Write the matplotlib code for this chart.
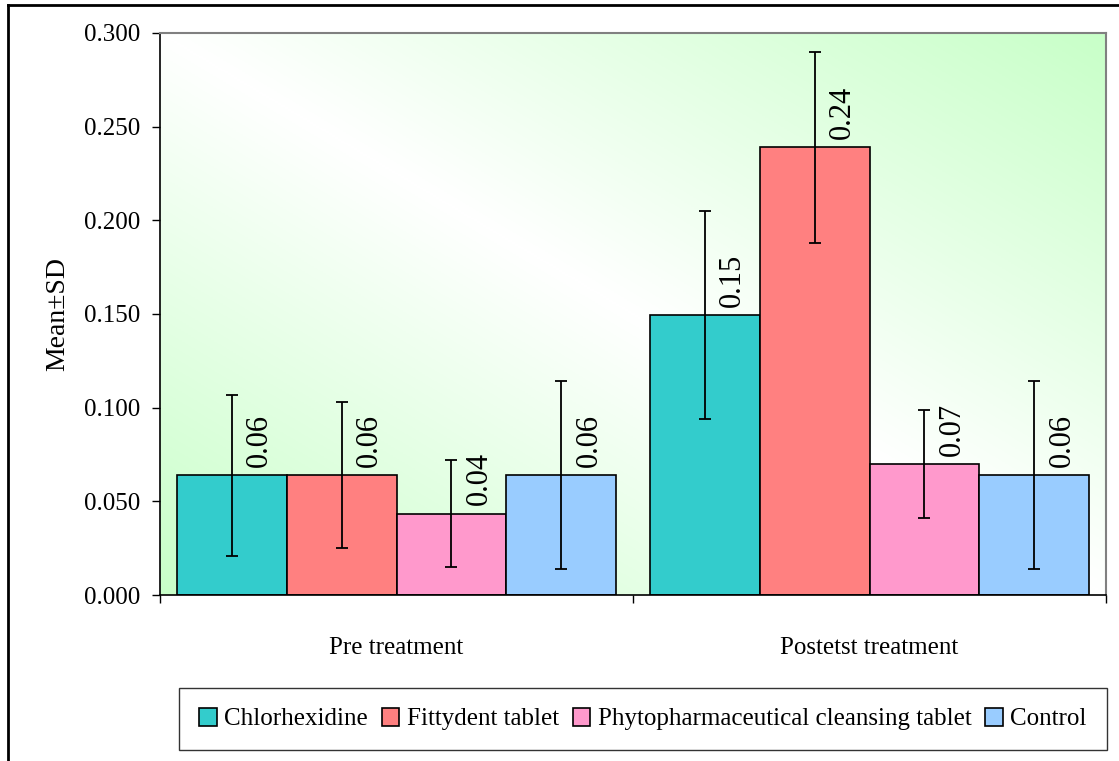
import matplotlib.pyplot as plt
import numpy as np
from matplotlib.lines import Line2D
from matplotlib.colors import LinearSegmentedColormap

plt.rcParams['font.family'] = ['Liberation Serif', 'DejaVu Serif']

# data
categories = ['Pre treatment', 'Postetst treatment']
groups = ['Chlorhexidine', 'Fittydent tablet', 'Phytopharmaceutical cleansing tablet', 'Control']
means = {
    'Chlorhexidine': [0.064, 0.1495],
    'Fittydent tablet': [0.064, 0.239],
    'Phytopharmaceutical cleansing tablet': [0.0435, 0.070],
    'Control': [0.064, 0.064],
}
sds = {
    'Chlorhexidine': [0.043, 0.0555],
    'Fittydent tablet': [0.039, 0.051],
    'Phytopharmaceutical cleansing tablet': [0.0285, 0.029],
    'Control': [0.050, 0.050],
}
labels = {
    'Chlorhexidine': ['0.06', '0.15'],
    'Fittydent tablet': ['0.06', '0.24'],
    'Phytopharmaceutical cleansing tablet': ['0.04', '0.07'],
    'Control': ['0.06', '0.06'],
}
colors = ['#33CCCC', '#FF8080', '#FF99CC', '#99CCFF']

fig = plt.figure(figsize=(11.19, 7.61), dpi=100)
ax = fig.add_axes([160/1119, 1-595/761, (1106-160)/1119, (595-33)/761])

# diagonal green-white-green background
n = 300
xx, yy = np.meshgrid(np.linspace(0, 1, n), np.linspace(0, 1, n))
u = np.abs((xx + yy) / 2 - 0.5) * 2
cmap = LinearSegmentedColormap.from_list('bg', ['#ffffff', '#c8ffc8'])
ax.imshow(u, cmap=cmap, extent=[0, 1, 0, 1], origin='lower', transform=ax.transAxes,
          aspect='auto', zorder=0, vmin=0, vmax=1)

x = np.arange(len(categories))
w = 0.232
for i, g in enumerate(groups):
    pos = x + (i - 1.5) * w
    ax.bar(pos, means[g], w, color=colors[i], edgecolor='black', linewidth=1.2, label=g, zorder=2)
    ax.errorbar(pos, means[g], yerr=sds[g], fmt='none', ecolor='black', elinewidth=1.3,
                capsize=4, capthick=1.3, zorder=3)
    for p, m, t in zip(pos, means[g], labels[g]):
        ax.annotate(t, (p, m), xytext=(20, 6), textcoords='offset points', rotation=90,
                    ha='center', va='bottom', fontsize=22, zorder=4)

ax.set_xlim(-0.5, 1.5)
ax.set_ylim(0, 0.3)
ax.set_yticks(np.arange(0, 0.301, 0.05))
ax.set_yticklabels(['%.3f' % v for v in np.arange(0, 0.301, 0.05)], fontsize=18)
ax.tick_params(axis='y', direction='out', length=6, width=1, pad=8.5)
ax.set_xticks([-0.5, 0.5, 1.5])
ax.set_xticklabels([])
ax.set_xticks(x, minor=True)
ax.set_xticklabels(categories, minor=True, fontsize=18)
ax.tick_params(axis='x', which='major', direction='out', length=6, width=1)
ax.tick_params(axis='x', which='minor', length=0, pad=30)
ax.set_ylabel('Mean\u00b1SD', fontsize=20, labelpad=10)

for s in ['top', 'right']:
    ax.spines[s].set_color('#808080')
    ax.spines[s].set_linewidth(1.5)
ax.spines['left'].set_linewidth(1.2)
ax.spines['bottom'].set_linewidth(1.2)

leg = fig.legend(loc='center', bbox_to_anchor=(643/1119, 1-719/761), ncol=4, fontsize=18,
                 frameon=True, fancybox=False, handlelength=0.7, handleheight=0.75,
                 handletextpad=0.3, columnspacing=0.55, borderpad=0.8, borderaxespad=0)
leg.get_frame().set_edgecolor('black')
leg.get_frame().set_linewidth(1)

# outer chart frame
fig.add_artist(Line2D([8/1119, 8/1119], [0, 1-5/761], color='black', linewidth=2, transform=fig.transFigure))
fig.add_artist(Line2D([8/1119, 1], [1-5/761, 1-5/761], color='black', linewidth=2, transform=fig.transFigure))

plt.savefig('out.png', dpi=100)
